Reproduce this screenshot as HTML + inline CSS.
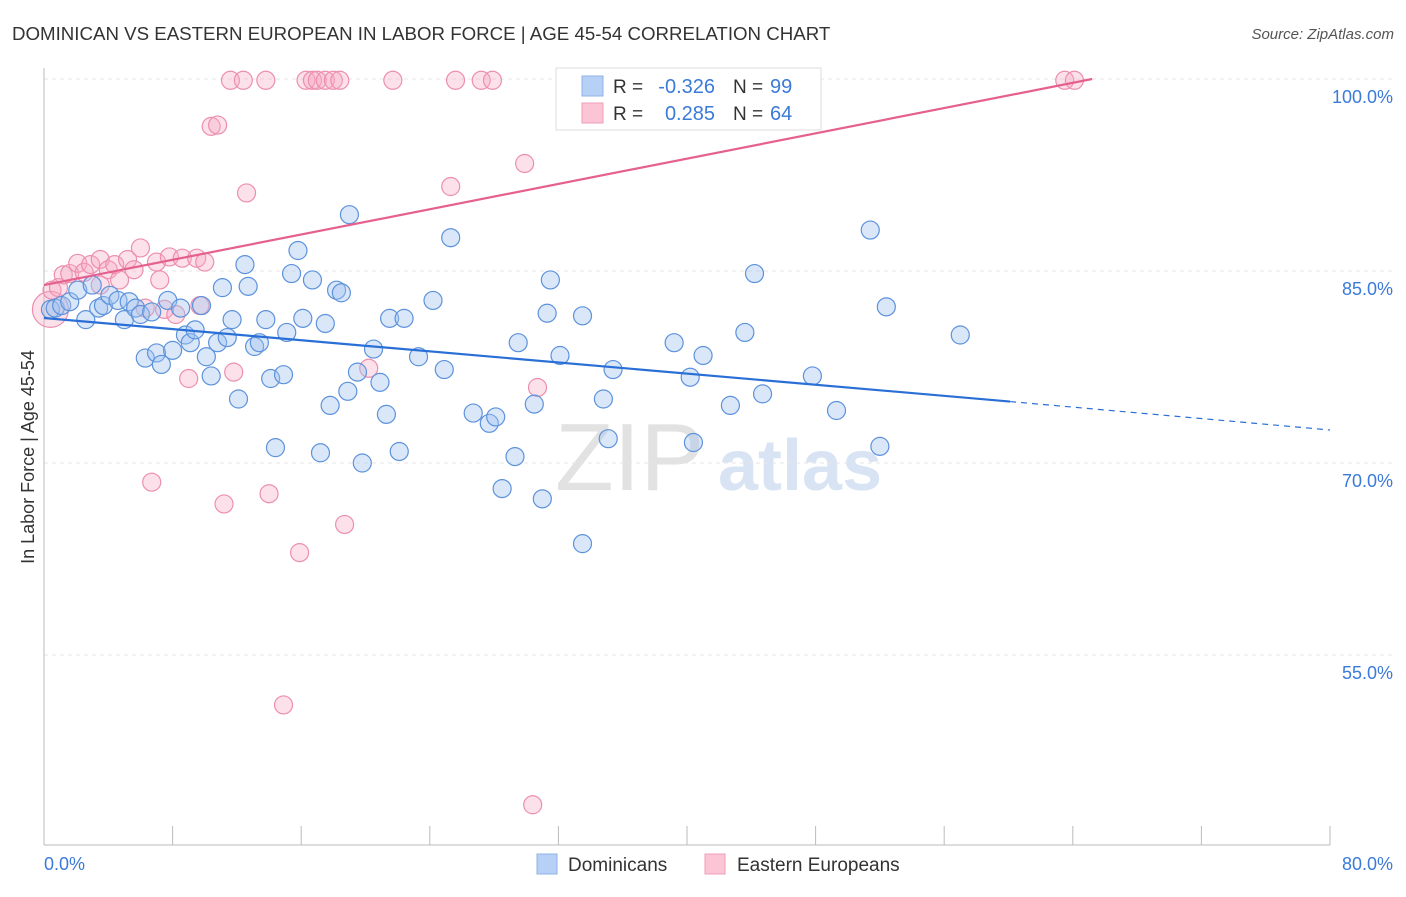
<!DOCTYPE html>
<html><head><meta charset="utf-8">
<style>
body{margin:0;background:#fff;font-family:"Liberation Sans",sans-serif}
svg text{font-family:"Liberation Sans",sans-serif}
</style></head>
<body>
<svg id="chart" width="1406" height="892" xmlns="http://www.w3.org/2000/svg">
<text x="12" y="40" font-size="18.7" fill="#333">DOMINICAN VS EASTERN EUROPEAN IN LABOR FORCE | AGE 45-54 CORRELATION CHART</text>
<text x="1394" y="39" font-size="15" fill="#555" font-style="italic" text-anchor="end">Source: ZipAtlas.com</text>
<g>
<text x="555" y="490" font-size="96" fill="#e2e2e2" font-family="Liberation Serif">ZIP</text>
<text x="718" y="490" font-size="72" fill="#d8e4f4" font-weight="bold">atlas</text>
</g>
<g id="grid"></g>
<g id="axes"></g>
<g id="pink"></g>
<g id="blue"></g>
<g id="lines"></g>
<g>
<rect x="556" y="68" width="265" height="62" fill="#fff" stroke="#ddd"/>
<rect x="582" y="76" width="21" height="20" fill="#b7d0f5" stroke="#8fb1e6"/>
<rect x="582" y="103" width="21" height="20" fill="#fbc5d5" stroke="#ef9fb8"/>
<text x="613" y="93" font-size="19" fill="#333">R =</text>
<text x="715" y="93" font-size="20" fill="#3a7ad8" text-anchor="end">-0.326</text>
<text x="733" y="93" font-size="19" fill="#333">N =</text>
<text x="770" y="93" font-size="20" fill="#3a7ad8">99</text>
<text x="613" y="120" font-size="19" fill="#333">R =</text>
<text x="715" y="120" font-size="20" fill="#3a7ad8" text-anchor="end">0.285</text>
<text x="733" y="120" font-size="19" fill="#333">N =</text>
<text x="770" y="120" font-size="20" fill="#3a7ad8">64</text>
</g>
<g>
<rect x="537" y="854" width="20" height="20" fill="#b7d0f5" stroke="#8fb1e6"/>
<text x="568" y="871" font-size="19" fill="#333">Dominicans</text>
<rect x="705" y="854" width="20" height="20" fill="#fbc5d5" stroke="#ef9fb8"/>
<text x="737" y="871" font-size="19" fill="#333">Eastern Europeans</text>
</g>
<text transform="translate(34,457) rotate(-90)" font-size="18" fill="#333" text-anchor="middle">In Labor Force | Age 45-54</text>
</svg>
<script>
const blueX=[0.4,0.7,1.1,1.6,2.1,2.6,3.0,3.4,3.7,4.1,4.6,5.0,5.3,5.7,6.0,6.3,6.7,7.0,7.3,7.7,8.0,8.5,8.8,9.1,9.4,9.8,10.1,10.4,10.8,11.1,11.4,11.7,12.1,12.5,12.7,13.1,13.4,13.8,14.1,14.4,14.9,15.1,15.4,15.8,16.1,16.7,17.2,17.5,17.8,18.2,18.5,19.0,18.9,19.5,19.8,20.5,20.9,21.3,21.5,22.1,22.4,23.3,24.2,24.9,25.3,26.7,27.7,28.1,28.5,29.3,29.5,30.5,31.0,31.3,31.5,32.1,33.5,33.5,34.8,35.1,35.4,39.2,40.2,40.4,41.0,42.7,43.6,44.2,44.7,47.8,49.3,51.4,52.0,52.4,57.0];
const blueY=[82.0,82.1,82.3,82.6,83.5,81.2,83.9,82.1,82.3,83.1,82.7,81.2,82.6,82.1,81.6,78.2,81.8,78.6,77.7,82.7,78.8,82.1,80.0,79.4,80.4,82.3,78.3,76.8,79.4,83.7,79.8,81.2,75.0,85.5,83.8,79.1,79.4,81.2,76.6,71.2,76.9,80.2,84.8,86.6,81.3,84.3,70.8,80.9,74.5,83.5,83.3,89.4,75.6,77.1,70.0,78.9,76.3,73.8,81.3,70.9,81.3,78.3,82.7,77.3,87.6,73.9,73.1,73.6,68.0,70.5,79.4,74.6,67.2,81.7,84.3,78.4,63.7,81.5,75.0,71.9,77.3,79.4,76.7,71.6,78.4,74.5,80.2,84.8,75.4,76.8,74.1,88.2,71.3,82.2,80.0];
const pinkX=[0.4,0.5,0.9,1.2,1.6,2.1,2.5,2.9,3.5,4.0,4.4,4.7,5.2,5.6,6.0,6.3,6.7,7.0,7.5,7.8,8.2,8.6,9.0,9.5,9.7,10.0,10.4,10.8,11.2,11.6,11.8,12.4,12.6,13.8,14.0,14.9,15.9,16.3,16.7,17.0,17.5,18.0,18.4,18.7,20.2,21.7,25.3,25.6,27.2,27.9,29.9,30.4,30.7,35.0,63.5,64.1,7.2,3.5];
const pinkY=[82.0,83.5,83.7,84.7,84.8,85.6,84.9,85.5,85.9,85.1,85.5,84.3,85.9,85.1,86.8,82.1,68.5,85.7,82.0,86.1,81.6,86.0,76.6,86.0,82.3,85.7,96.3,96.4,66.8,99.9,77.1,99.9,91.1,99.9,67.6,51.1,63.0,99.9,99.9,99.9,99.9,99.9,99.9,65.2,77.4,99.9,91.6,99.9,99.9,99.9,93.4,43.3,75.9,99.9,99.9,99.9,84.3,83.9];
const blueTrend=[[0,81.33],[60.1,74.8],[80,72.58]];
const pinkTrend=[[0,83.9],[65.2,100]];
const yTicks=[100,85,70,55];
const yTickLabels=["100.0%","85.0%","70.0%","55.0%"];
const xTicks=[0,8,16,24,32,40,48,56,64,72,80];
const xLabels=[["0.0%",0],["80.0%",80]];

const X0=44,X1=1330,Y100=79,PY=12.8,YB=845;
const sx=v=>X0+(X1-X0)*v/80;
const sy=v=>Y100+(100-v)*PY;
const NS="http://www.w3.org/2000/svg";
function mk(tag,attrs,parent){const e=document.createElementNS(NS,tag);for(const k in attrs)e.setAttribute(k,attrs[k]);parent.appendChild(e);return e;}
const grid=document.getElementById('grid'),axes=document.getElementById('axes');
yTicks.forEach((t,i)=>{
  const l=mk('line',{x1:X0,x2:1394,y1:sy(t),y2:sy(t),stroke:'#e6e6e6','stroke-dasharray':'4,4'},grid);
  
  
  const tx=mk('text',{x:1393,y:sy(t)+24,'font-size':18,fill:'#3a7ad8','text-anchor':'end'},axes);
  tx.textContent=yTickLabels[i];
  
  
});
const ax=mk('line',{x1:X0,x2:X0,y1:68,y2:YB,stroke:'#bbb'},axes);


const bx=mk('line',{x1:X0,x2:X1,y1:YB,y2:YB,stroke:'#bbb'},axes);


xTicks.forEach(t=>{
  const l=mk('line',{x1:sx(t),x2:sx(t),y1:826,y2:YB,stroke:'#bbb'},axes);
  
  
});
xLabels.forEach(([s,v],i)=>{
  const tx=mk('text',{x:i==0?sx(v):sx(v)+63,y:870,'font-size':18,fill:'#3a7ad8','text-anchor':i==0?'start':'end'},axes);
  tx.textContent=s;
  
  
});
const pg=document.getElementById('pink'),bg=document.getElementById('blue');
pinkX.forEach((x,i)=>{
  const c=mk('circle',{cx:sx(x),cy:sy(pinkY[i]),r:i==0?18:9,fill:'rgba(246,170,195,0.35)',stroke:'#ec8fae','stroke-width':1.2},pg);
  
  
});
blueX.forEach((x,i)=>{
  const c=mk('circle',{cx:sx(x),cy:sy(blueY[i]),r:9,fill:'rgba(160,195,240,0.4)',stroke:'#5d92dc','stroke-width':1.2},bg);
  
  
});
const lg=document.getElementById('lines');
const b1=mk('line',{x1:sx(blueTrend[0][0]),y1:sy(blueTrend[0][1]),x2:sx(blueTrend[1][0]),y2:sy(blueTrend[1][1]),stroke:'#2a6fd6','stroke-width':2.2},lg);


const b2=mk('line',{x1:sx(blueTrend[1][0]),y1:sy(blueTrend[1][1]),x2:sx(blueTrend[2][0]),y2:sy(blueTrend[2][1]),stroke:'#2a6fd6','stroke-width':1.2,'stroke-dasharray':'6,5'},lg);


const p1=mk('line',{x1:sx(pinkTrend[0][0]),y1:sy(pinkTrend[0][1]),x2:sx(pinkTrend[1][0]),y2:sy(pinkTrend[1][1]),stroke:'#e5608e','stroke-width':2.2},lg);


</script>
</body></html>
